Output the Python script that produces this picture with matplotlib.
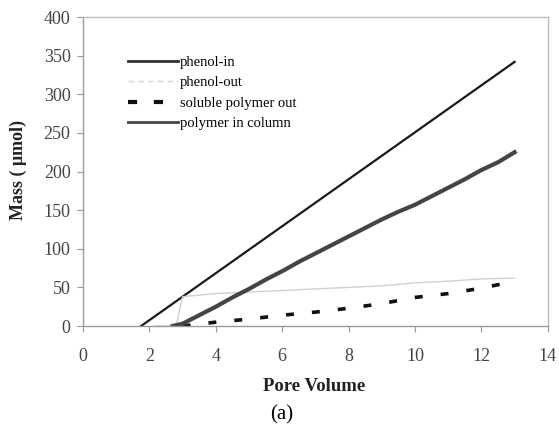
import matplotlib
matplotlib.use("Agg")
from matplotlib import pyplot as plt
from matplotlib.lines import Line2D

# data
pv_in = [1.75, 13.0]
phenol_in = [0, 342]

pv_out = [2.2, 2.8, 3.0, 4.0, 5.0, 6.0, 7.0, 8.0, 9.0, 10.0, 11.0, 12.0, 13.0]
phenol_out = [0, 0, 38, 42, 44, 46, 48, 50, 52, 56, 58, 61, 62]

pv_sol = [3.0, 4.0, 5.0, 6.0, 7.0, 8.0, 9.0, 10.0, 11.0, 12.0, 13.0]
sol_out = [0, 5, 9, 14, 18, 23, 29, 37, 42, 49, 58]

pv_col = [2.7, 3.0, 3.5, 4.0, 4.5, 5.0, 5.5, 6.0, 6.5, 7.0, 7.5, 8.0, 8.5,
          9.0, 9.5, 10.0, 10.5, 11.0, 11.5, 12.0, 12.5, 13.0]
in_col = [0, 3, 14, 25, 37, 48, 60, 71, 83, 94, 105, 116, 127,
          138, 148, 157, 168, 179, 190, 202, 212, 225]

labels = ['phenol-in', 'phenol-out', 'soluble polymer out', 'polymer in column']

plt.rcParams['font.family'] = ['Liberation Serif', 'DejaVu Serif']

fig = plt.figure(figsize=(5.59, 4.26), dpi=100)
ax = fig.add_axes([0.1485, 0.2347, 0.8315, 0.7253])

ax.plot(pv_in, phenol_in, '-', color='#1a1a1a', lw=1.6)
ax.plot(pv_out, phenol_out, '-', color='#cfcfcf', lw=1.0)
ax.plot(pv_sol, sol_out, color='#111111', lw=2.6, dashes=(2.2, 5))
ax.plot(pv_col, in_col, '-', color='#444444', lw=3.0)

ax.set_xlim(0, 14)
ax.set_ylim(0, 400)
ax.set_xticks(range(0, 15, 2))
ax.set_yticks(range(0, 401, 50))

for s in ax.spines.values():
    s.set_color('#bbbbbb')
    s.set_linewidth(1.0)
ax.spines['left'].set_color('#999999')
ax.spines['bottom'].set_color('#999999')
ax.tick_params(direction='out', length=4, color='#999999', labelsize=13,
               labelcolor='#444444')
ax.tick_params(axis='x', pad=12)
ax.tick_params(axis='y', pad=5)

# legend handles (phenol-out is shown dashed in the key)
handles = [Line2D([], [], color='#333333', lw=2.0),
           Line2D([], [], color='#d5d5d5', lw=1.0, dashes=(4, 3)),
           Line2D([], [], color='#111111', lw=3.0, dashes=(2.2, 4)),
           Line2D([], [], color='#444444', lw=2.0)]
ax.legend(handles, labels, loc='upper left', bbox_to_anchor=(0.097, 0.875),
          frameon=False, fontsize=10.5, handlelength=3.4, handletextpad=0.15,
          labelspacing=0.5, borderpad=0, borderaxespad=0)

fig.text(0.032, 0.601, 'Mass ( μmol)', rotation=90, ha='center', va='center',
         fontsize=13, fontweight='bold', color='#222222')
fig.text(0.562, 0.0925, 'Pore Volume', ha='center', va='center',
         fontsize=13.5, fontweight='bold', color='#222222')
fig.text(0.504, 0.026, '(a)', ha='center', va='center', fontsize=15)

fig.savefig('out.png', dpi=100)
